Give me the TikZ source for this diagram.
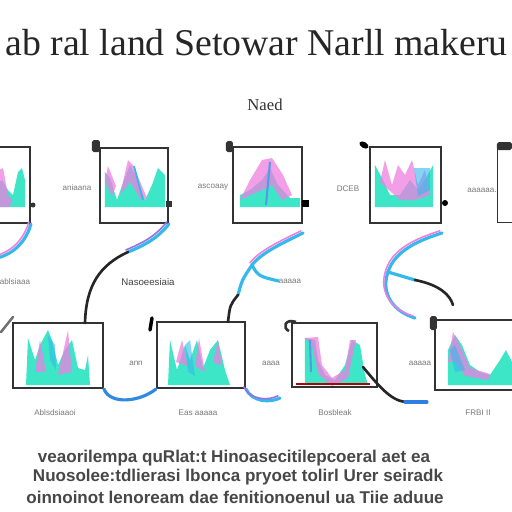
\documentclass[tikz,border=0pt]{standalone}
\usepackage{fontspec}
\setmainfont{Liberation Serif}
\setsansfont{Liberation Sans}
\definecolor{tealC}{HTML}{3EE6C8}
\definecolor{pinkC}{HTML}{EE7FE0}
\definecolor{cyanC}{HTML}{35B8EC}
\definecolor{blueC}{HTML}{2F7FE0}
\definecolor{purpC}{HTML}{9B6FE0}
\definecolor{frameC}{HTML}{333333}
\definecolor{labC}{HTML}{7A7A7A}
\begin{document}
\begin{tikzpicture}[x=0.02cm,y=-0.02cm,
  frame/.style={draw=frameC, line width=1.1pt, inner sep=0pt, fill=none},
  tl/.style={font=\sffamily\fontsize{4.6}{5}\selectfont, text=labC, inner sep=0pt},
  cy/.style={draw=cyanC, line width=1.8pt, line cap=round},
  pk/.style={draw=pinkC, line width=0.9pt, line cap=round, transform canvas={shift={(-1.2pt,1.2pt)}}},
  bk/.style={draw=black!85, line width=1.5pt, line cap=round},
  te/.style={fill=tealC},
  pi/.style={fill=pinkC, opacity=0.75},
  bl/.style={fill=cyanC, opacity=0.6},
  para/.style={font=\sffamily\bfseries\fontsize{9.7}{11}\selectfont, text=black!72, inner sep=0pt}]
\useasboundingbox (0,0) rectangle (512,512);
\fill[white] (0,0) rectangle (512,512);

% title
\node[anchor=base west, inner sep=0pt, font=\fontsize{21.5}{24}\selectfont, text=black!85] (title) at (5,55) {ab ral land Setowar Narll makeru};
\node[inner sep=0pt, font=\fontsize{9.5}{11}\selectfont, text=black!80] (sub) at (265,105) {Naed};

% charts (top row)
\fill[te] (-5,207) -- (-5,185) -- (2,180) -- (8,190) -- (13,195) -- (18,172) -- (22,168) -- (25,180) -- (25,207) -- cycle;
\fill[pi] (-5,207) -- (-5,172) -- (3,168) -- (8,195) -- (12,200) -- (10,207) -- cycle;

\fill[te] (105,207) -- (105,172) -- (110,178) -- (117,200) -- (124,180) -- (130,165) -- (137,178) -- (145,200) -- (152,185) -- (158,168) -- (165,175) -- (165,207) -- cycle;
\fill[pi] (120,195) -- (128,160) -- (133,165) -- (147,198) -- (141,200) -- (130,182) -- cycle;
\fill[pi] (105,182) -- (108,166) -- (116,186) -- (112,196) -- cycle;
\draw[cyanC, line width=1pt] (134,166) -- (143,200);

\fill[te] (240,207) -- (240,195) -- (250,190) -- (262,180) -- (270,168) -- (278,185) -- (290,198) -- (300,198) -- (300,207) -- cycle;
\fill[pi] (240,200) -- (250,180) -- (262,160) -- (272,158) -- (283,175) -- (292,195) -- (282,200) -- (272,185) -- (262,190) -- cycle;
\draw[blueC!80, line width=1.2pt] (270,162) -- (266,205);

\fill[te] (375,207) -- (375,165) -- (383,180) -- (390,195) -- (400,195) -- (410,180) -- (418,190) -- (425,180) -- (433,165) -- (433,207) -- cycle;
\fill[pi] (380,182) -- (385,160) -- (392,185) -- (398,165) -- (405,175) -- (412,160) -- (418,185) -- (425,170) -- (430,195) -- (415,200) -- (400,200) -- cycle;
\fill[bl] (414,168) -- (430,168) -- (430,190) -- (418,196) -- cycle;

% charts (bottom row)
\fill[te] (26,385) -- (28,338) -- (35,360) -- (40,345) -- (48,330) -- (52,340) -- (58,365) -- (65,350) -- (72,340) -- (78,368) -- (85,370) -- (88,355) -- (90,385) -- cycle;
\fill[pi] (35,372) -- (40,340) -- (46,372) -- cycle;
\fill[pi] (58,375) -- (68,330) -- (72,372) -- cycle;
\fill[bl] (48,335) -- (55,345) -- (56,370) -- (50,360) -- cycle;

\fill[te] (168,385) -- (170,340) -- (177,370) -- (185,345) -- (190,360) -- (197,340) -- (203,368) -- (210,350) -- (218,340) -- (225,370) -- (230,385) -- cycle;
\fill[pi] (176,362) -- (182,340) -- (188,366) -- cycle;
\fill[pi] (195,366) -- (199,338) -- (205,372) -- cycle;
\fill[pi] (213,362) -- (218,340) -- (222,366) -- cycle;
\fill[bl] (185,345) -- (190,340) -- (195,376) -- (188,372) -- cycle;

\fill[te] (305,385) -- (305,338) -- (315,340) -- (318,360) -- (325,375) -- (335,380) -- (345,365) -- (352,340) -- (360,345) -- (365,375) -- (368,385) -- cycle;
\fill[pi] (305,338) -- (318,337) -- (322,365) -- (332,378) -- (345,370) -- (350,340) -- (356,340) -- (348,378) -- (332,386) -- (318,374) -- (312,345) -- cycle;
\draw[blueC!80, line width=1.2pt] (310,340) -- (311,372);
\draw[red!70!black, line width=1pt] (296,384) -- (370,384);

\fill[te] (448,385) -- (448,350) -- (455,335) -- (462,345) -- (470,365) -- (480,372) -- (490,375) -- (500,360) -- (506,350) -- (512,362) -- (512,385) -- cycle;
\fill[pi] (448,362) -- (453,332) -- (460,345) -- (470,368) -- (490,374) -- (488,380) -- (465,376) -- (455,362) -- cycle;
\fill[bl] (450,350) -- (455,345) -- (465,370) -- (455,372) -- cycle;

% frames
\node[frame, minimum width=0.8cm, minimum height=1.52cm] (box1) at (10,185) {};
\node[frame, minimum width=1.36cm, minimum height=1.5cm] (box2) at (134,185.5) {};
\node[frame, minimum width=1.38cm, minimum height=1.52cm] (box3) at (267.5,185) {};
\node[frame, minimum width=1.42cm, minimum height=1.52cm] (box4) at (405.5,185) {};
\node[frame, minimum width=0.9cm, minimum height=1.54cm] (box5) at (520,184) {};
\node[frame, minimum width=1.8cm, minimum height=1.3cm] (box6) at (58,355.5) {};
\node[frame, minimum width=1.76cm, minimum height=1.32cm] (box7) at (201,355) {};
\node[frame, minimum width=1.7cm, minimum height=1.28cm] (box8) at (334.5,355) {};
\node[frame, minimum width=1.9cm, minimum height=1.4cm] (box9) at (482.5,355) {};

% handles
\fill[frameC, rounded corners=1pt] (92,140) rectangle (100,152);
\fill[frameC, rounded corners=1pt] (226,141) rectangle (233,152);
\fill[black, rotate around={-30:(364,145)}] (364,145) ellipse (5 and 3);
\fill[frameC, rounded corners=1pt] (497,142) rectangle (512,150);
\fill[frameC] (33,205) circle (2.5);
\fill[frameC] (166,201) rectangle (172,207);
\fill[black] (302,200) rectangle (309,207);
\fill[black] (445,203) circle (3);
\draw[frameC!70, line width=1.4pt, line cap=round] (1,332) -- (13,317);
\draw[black, line width=2pt, line cap=round] (152,318) -- (150,330);
\draw[frameC, line width=1.5pt] (296,322) .. controls (285,318) and (282,328) .. (289,331);
\fill[frameC, rounded corners=1pt] (430,316) rectangle (437,330);

% labels
\node[tl] (l1) at (77,188) {aniaana};
\node[tl] (l2) at (213,187) {ascoaay};
\node[tl] (l3) at (348,189) {DCEB};
\node[tl] (l4) at (482,190) {aaaaaa.};
\node[tl] (m1) at (15,282) {ablsiaaa};
\node[tl, text=black!75, font=\sffamily\fontsize{5.5}{6}\selectfont] (m2) at (148,282) {Nasoeesiaia};
\node[tl] (m3) at (290,281) {aaaaa};
\node[tl] (b1) at (136,363) {ann};
\node[tl] (b2) at (271,363) {aaaa};
\node[tl] (b3) at (420,363) {aaaaa};
\node[tl] (d1) at (55,413) {Ablsdsiaaoi};
\node[tl] (d2) at (198,413) {Eas aaaaa};
\node[tl] (d3) at (335,413) {Bosbleak};
\node[tl] (d4) at (478,413) {FRBI II};

% connectors
\coordinate (c1e) at (-3,258);
\coordinate (k2) at (128,252);
\coordinate (e2) at (85,323);
\coordinate (k3) at (252,265);
\coordinate (m3k) at (238,295);
\coordinate (e3) at (228,322);
\coordinate (k4) at (388,272);
\coordinate (e4) at (415,318);
\coordinate (m4) at (415,280);
\coordinate (e4b) at (453,305);
\coordinate (e6) at (280,398);
\coordinate (s7) at (363,367);
\coordinate (m7) at (405,402);
\coordinate (e7) at (427,402);

\draw[cy] (box1.south east) .. controls (25,245) and (10,255) .. (c1e);
\draw[pk] (box1.south east) .. controls (25,245) and (10,255) .. (c1e);

\draw[cy] (box2.south east) .. controls (158,238) and (145,245) .. (k2);
\draw[pk, draw=purpC] (box2.south east) .. controls (158,238) and (145,245) .. (k2);
\draw[bk] (k2) .. controls (100,265) and (86,285) .. (e2);

\draw[cy] ([yshift=-0.18cm]box3.south east) .. controls (285,242) and (262,252) .. (k3);
\draw[pk] ([yshift=-0.18cm]box3.south east) .. controls (285,242) and (262,252) .. (k3);
\draw[cy] (k3) .. controls (258,276) .. (m3.west);
\draw[cy] (k3) .. controls (242,280) .. (m3k);
\draw[bk] (m3k) .. controls (230,305) .. (e3);

\draw[cy] ([yshift=-0.18cm]box4.south east) .. controls (420,240) and (395,250) .. (k4);
\draw[pk] ([yshift=-0.18cm]box4.south east) .. controls (420,240) and (395,250) .. (k4);
\draw[cy] (k4) .. controls (380,295) and (395,312) .. (e4);
\draw[pk] (k4) .. controls (380,295) and (395,312) .. (e4);
\draw[cy] (k4) -- (m4);
\draw[bk] (m4) .. controls (440,285) and (450,295) .. (e4b);

\draw[cy, draw=blueC!80!cyanC] (box6.south east) .. controls (110,405) and (140,402) .. (box7.south west);
\draw[cy] (box7.south east) .. controls (252,402) and (270,403) .. (e6);
\draw[pk, draw=purpC] (box7.south east) .. controls (252,402) and (270,403) .. (e6);
\draw[bk] (s7) .. controls (378,385) and (390,400) .. (m7);
\draw[cy, draw=blueC] (m7) -- (e7);

% paragraph
\node[para] (p1) at (234,458) {veaorilempa quRlat:t Hinoasecitilepcoeral aet ea};
\node[para] (p2) at (238,477) {Nuosolee:tdlierasi lbonca pryoet tolirl Urer seiradk};
\node[para] (p3) at (235,497) {oinnoinot lenoream dae fenitionoenul ua Tiie aduue};
\end{tikzpicture}
\end{document}
